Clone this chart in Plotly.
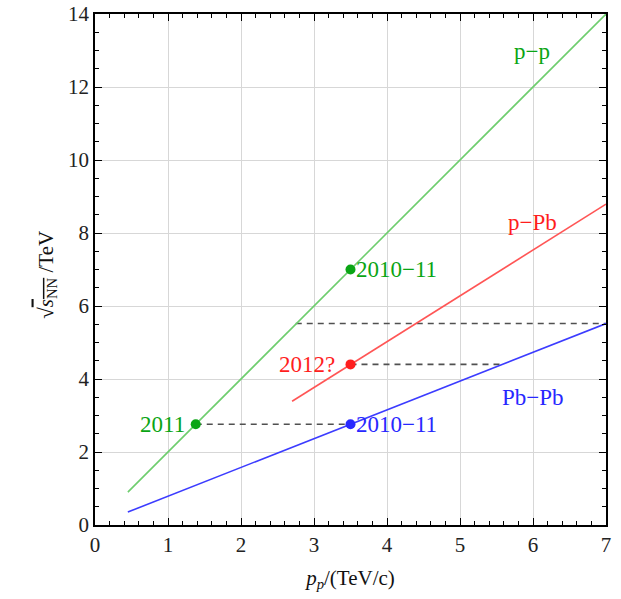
import plotly.graph_objects as go

# Data
pp_x = [0.45, 7.0]
pp_y = [0.9, 14.0]
ppb_x = [2.7, 7.0]
ppb_y = [3.39, 8.79]
pbpb_x = [0.45, 7.0]
pbpb_y = [0.355, 5.52]

dash1_x = [2.75, 7.0]; dash1_y = [5.52, 5.52]
dash2_x = [3.5, 5.58]; dash2_y = [4.4, 4.4]
dash3_x = [1.38, 3.5]; dash3_y = [2.76, 2.76]

green_pts_x = [1.38, 3.5]; green_pts_y = [2.76, 7.0]
red_pts_x = [3.5]; red_pts_y = [4.4]
blue_pts_x = [3.5]; blue_pts_y = [2.76]

x_ticks = [0, 1, 2, 3, 4, 5, 6, 7]
y_ticks = [0, 2, 4, 6, 8, 10, 12, 14]

GREEN_LINE = "rgb(110,205,110)"
GREEN = "rgb(10,165,20)"
RED_LINE = "rgb(255,85,85)"
RED = "rgb(255,30,30)"
BLUE_LINE = "rgb(60,60,255)"
BLUE = "rgb(40,40,255)"
DASH = "rgb(80,80,80)"
FONT = "Liberation Serif, Times New Roman, DejaVu Serif, serif"

fig = go.Figure()
for xs, ys in [(dash1_x, dash1_y), (dash2_x, dash2_y), (dash3_x, dash3_y)]:
    fig.add_trace(go.Scatter(x=xs, y=ys, mode="lines",
                             line=dict(color=DASH, width=1.6, dash="6px,5px")))
fig.add_trace(go.Scatter(x=pp_x, y=pp_y, mode="lines", line=dict(color=GREEN_LINE, width=1.6)))
fig.add_trace(go.Scatter(x=ppb_x, y=ppb_y, mode="lines", line=dict(color=RED_LINE, width=1.6)))
fig.add_trace(go.Scatter(x=pbpb_x, y=pbpb_y, mode="lines", line=dict(color=BLUE_LINE, width=1.6)))
fig.add_trace(go.Scatter(x=green_pts_x, y=green_pts_y, mode="markers", marker=dict(color=GREEN, size=10)))
fig.add_trace(go.Scatter(x=red_pts_x, y=red_pts_y, mode="markers", marker=dict(color=RED, size=10)))
fig.add_trace(go.Scatter(x=blue_pts_x, y=blue_pts_y, mode="markers", marker=dict(color=BLUE, size=10)))

def ann(x, y, text, color, xanchor="center"):
    fig.add_annotation(x=x, y=y, text=text, showarrow=False, xanchor=xanchor, yanchor="middle",
                       font=dict(family=FONT, size=23, color=color))

ann(5.99, 12.96, "p\u2212p", GREEN)
ann(5.99, 8.3, "p\u2212Pb", RED)
ann(6.0, 3.5, "Pb\u2212Pb", BLUE)
ann(3.5 + 0.05, 7.0, "2010\u221211", GREEN, "left")
ann(3.5 - 0.18, 4.4, "2012?", RED, "right")
ann(1.38 - 0.12, 2.76, "2011", GREEN, "right")
ann(3.5 + 0.05, 2.76, "2010\u221211", BLUE, "left")

# y-axis title
fig.add_annotation(xref="paper", yref="paper", x=-0.125, y=0.49, textangle=-90,
                   text="\u221a<span style='text-decoration:overline'><i>s</i><sub>NN</sub></span> /TeV",
                   showarrow=False, font=dict(family=FONT, size=21, color="#111"))

axis_common = dict(showline=True, linecolor="black", linewidth=1.5, mirror="ticks",
                   ticks="inside", ticklen=7, tickwidth=1.2, tickcolor="black",
                   showgrid=True, gridcolor="rgb(215,215,215)", gridwidth=1.2,
                   zeroline=False, automargin=False, ticklabeloverflow="allow",
                   tickfont=dict(family=FONT, size=21, color="#222"))

fig.update_xaxes(range=[0, 7], tickvals=x_ticks, ticktext=[str(v) for v in x_ticks],
                 minor=dict(dtick=0.2, ticklen=4, tickcolor="black", ticks="inside", showgrid=False),
                 title=dict(text="<i>p</i><sub><i>p</i></sub>/(TeV/c)", font=dict(family=FONT, size=21, color="#111"),
                            standoff=14),
                 **axis_common)
fig.update_yaxes(range=[0, 14], tickvals=y_ticks, ticktext=[str(v) for v in y_ticks],
                 minor=dict(dtick=0.5, ticklen=4, tickcolor="black", ticks="inside", showgrid=False),
                 **axis_common)

fig.update_layout(width=621, height=599, showlegend=False, template="none",
                  margin=dict(l=95, r=15, t=14, b=74),
                  plot_bgcolor="white", paper_bgcolor="white")

fig.write_html("out.html", config={"displayModeBar": False},
               post_script="document.body.style.margin='0';")
